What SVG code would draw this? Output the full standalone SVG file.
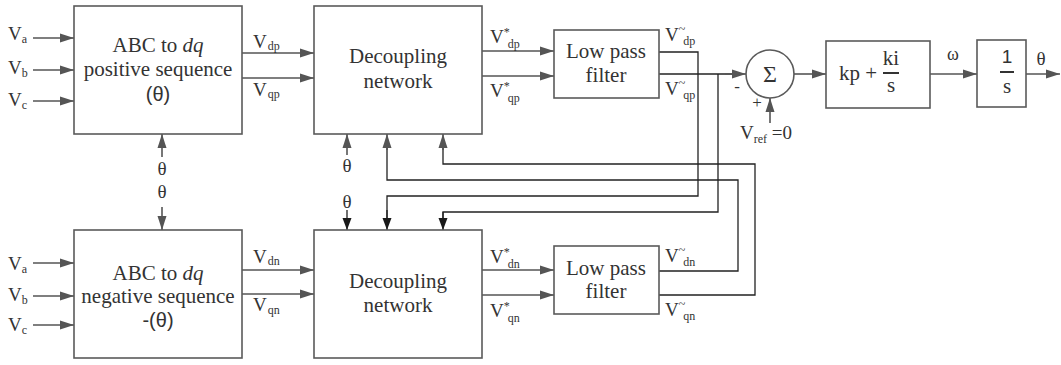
<svg xmlns="http://www.w3.org/2000/svg" width="1061" height="365" viewBox="0 0 1061 365">
<defs>
<marker id="ag" markerUnits="userSpaceOnUse" markerWidth="14" markerHeight="10" refX="14" refY="5" orient="auto"><path d="M0,0.5 L14,5 L0,9.5 z" fill="#555"/></marker>
<marker id="ak" markerUnits="userSpaceOnUse" markerWidth="12" markerHeight="10" refX="12" refY="5" orient="auto"><path d="M0,0.5 L12,5 L0,9.5 z" fill="#1a1a1a"/></marker>
</defs>
<style>
.box{fill:#fff;stroke:#5a5a5a;stroke-width:1.6}
.t{font-family:"Liberation Serif","Times New Roman",serif;font-size:21px;fill:#333;text-anchor:middle}
.l{font-family:"Liberation Serif","Times New Roman",serif;font-size:19px;fill:#333}
.sans{font-family:"Liberation Sans",Arial,sans-serif}
.s{font-size:12px}
.w{fill:none;stroke:#555;stroke-width:1.6;marker-end:url(#ag)}
.k{fill:none;stroke:#222;stroke-width:1.3}
.ka{fill:none;stroke:#222;stroke-width:1.3;marker-end:url(#ak)}
.bar{stroke:#333;stroke-width:2}
</style>
<rect width="1061" height="365" fill="#fff"/>

<g id="connectors">
<path class="w" d="M33,38 H74"/>
<path class="w" d="M33,70 H74"/>
<path class="w" d="M33,101 H74"/>
<path class="w" d="M33,263 H74"/>
<path class="w" d="M33,296 H74"/>
<path class="w" d="M33,325 H74"/>
<path class="w" d="M242,53 H314"/>
<path class="w" d="M242,78 H314"/>
<path class="w" d="M242,270 H314"/>
<path class="w" d="M242,294 H314"/>
<path class="w" d="M482,51 H554"/>
<path class="w" d="M482,76 H554"/>
<path class="w" d="M482,270 H554"/>
<path class="w" d="M482,295 H554"/>
<path class="w" d="M162,157 V134"/>
<path class="w" d="M162,207 V230"/>
<path class="w" d="M347,155 V134"/>
<path class="ka" d="M347,210 V230"/>
<path class="k" d="M659,52 H698 V196 H387 V218"/>
<path class="ka" d="M387,210 V230"/>
<path class="k" d="M718,74 V212 H443 V220"/>
<path class="ka" d="M443,212 V230"/>
<path class="k" d="M659,271 H738 V180 H387 V146"/>
<path class="w" d="M387,150 V134"/>
<path class="k" d="M659,295 H755 V164 H443 V146"/>
<path class="w" d="M443,150 V134"/>
<path class="k" d="M659,74 H735"/>
<path class="w" d="M725,74 H746"/>
<path class="w" d="M770,123 V98"/>
<path class="w" d="M794,74 H826"/>
<path class="w" d="M930,74 H977"/>
<path class="w" d="M1026,74 H1060"/>
</g>

<g id="inputs-top">
<text class="l" x="8" y="40">V<tspan class="s" dy="3">a</tspan></text>
<text class="l" x="8" y="74">V<tspan class="s" dy="3">b</tspan></text>
<text class="l" x="8" y="106">V<tspan class="s" dy="3">c</tspan></text>
</g>
<g id="inputs-bottom">
<text class="l" x="8" y="270">V<tspan class="s" dy="3">a</tspan></text>
<text class="l" x="8" y="301">V<tspan class="s" dy="3">b</tspan></text>
<text class="l" x="8" y="331">V<tspan class="s" dy="3">c</tspan></text>
</g>

<g id="abc-pos">
<rect class="box" x="74" y="6" width="168" height="128"/>
<text class="t" x="158" y="52">ABC to <tspan font-style="italic">dq</tspan></text>
<text class="t" x="158" y="76">positive sequence</text>
<text class="t sans" x="158" y="101" style="font-size:20px">(θ)</text>
</g>
<g id="abc-neg">
<rect class="box" x="74" y="230" width="168" height="128"/>
<text class="t" x="158" y="280">ABC to <tspan font-style="italic">dq</tspan></text>
<text class="t" x="158" y="303">negative sequence</text>
<text class="t sans" x="158" y="327" style="font-size:20px">-(θ)</text>
</g>
<g id="theta-labels">
<text class="t" x="162" y="175" style="font-size:19px">θ</text>
<text class="t" x="162" y="198" style="font-size:19px">θ</text>
<text class="t" x="347" y="172" style="font-size:19px">θ</text>
<text class="t" x="347" y="208" style="font-size:19px">θ</text>
</g>
<g id="vdq-labels">
<text class="l" x="253" y="48">V<tspan class="s" dx="1" dy="2">dp</tspan></text>
<text class="l" x="253" y="96">V<tspan class="s" dx="1" dy="2">qp</tspan></text>
<text class="l" x="253" y="263">V<tspan class="s" dx="1" dy="2">dn</tspan></text>
<text class="l" x="253" y="311">V<tspan class="s" dx="1" dy="3">qn</tspan></text>
</g>

<g id="dec-pos">
<rect class="box" x="314" y="6" width="168" height="128"/>
<text class="t" x="398" y="63">Decoupling</text>
<text class="t" x="398" y="88">network</text>
</g>
<g id="dec-neg">
<rect class="box" x="314" y="230" width="168" height="128"/>
<text class="t" x="398" y="288">Decoupling</text>
<text class="t" x="398" y="312">network</text>
</g>
<g id="vstar-labels">
<text class="l" x="490" y="43">V<tspan class="s" dy="-7">*</tspan><tspan class="s" dx="-2" dy="12">dp</tspan></text>
<text class="l" x="490" y="97">V<tspan class="s" dy="-7">*</tspan><tspan class="s" dx="-2" dy="12">qp</tspan></text>
<text class="l" x="490" y="263">V<tspan class="s" dy="-7">*</tspan><tspan class="s" dx="-2" dy="12">dn</tspan></text>
<text class="l" x="490" y="317">V<tspan class="s" dy="-7">*</tspan><tspan class="s" dx="-2" dy="12">qn</tspan></text>
</g>

<g id="lpf-pos">
<rect class="box" x="554" y="30" width="105" height="68"/>
<text class="t" x="606" y="58">Low pass</text>
<text class="t" x="606" y="82">filter</text>
</g>
<g id="lpf-neg">
<rect class="box" x="554" y="246" width="105" height="68"/>
<text class="t" x="606" y="275">Low pass</text>
<text class="t" x="606" y="298">filter</text>
</g>
<g id="vtilde-labels">
<text class="l" x="665" y="41">V<tspan class="s" dy="-8">~</tspan><tspan class="s" dx="-2" dy="12">dp</tspan></text>
<text class="l" x="665" y="95">V<tspan class="s" dy="-8">~</tspan><tspan class="s" dx="-2" dy="12">qp</tspan></text>
<text class="l" x="665" y="262">V<tspan class="s" dy="-8">~</tspan><tspan class="s" dx="-2" dy="12">dn</tspan></text>
<text class="l" x="665" y="316">V<tspan class="s" dy="-8">~</tspan><tspan class="s" dx="-2" dy="12">qn</tspan></text>
</g>

<g id="sum">
<circle cx="770" cy="74" r="24" fill="#fff" stroke="#5a5a5a" stroke-width="1.6"/>
<text class="t" x="770" y="82" style="font-size:24px">Σ</text>
<text class="t" x="737" y="92" style="font-size:17px">-</text>
<text class="t" x="757" y="108" style="font-size:17px">+</text>
<text class="l" x="740" y="139">V<tspan class="s" dy="4">ref</tspan><tspan dy="-4"> =0</tspan></text>
</g>

<g id="pi">
<rect class="box" x="826" y="41" width="104" height="67"/>
<text class="l" x="839" y="80" style="font-size:21px">kp +</text>
<text class="t" x="891" y="65">ki</text>
<line class="bar" x1="883" y1="73" x2="899" y2="73"/>
<text class="t" x="891" y="92">s</text>
</g>
<text class="t" x="953" y="60" style="font-size:18px">ω</text>

<g id="integrator">
<rect class="box" x="977" y="40" width="49" height="67"/>
<text class="t sans" x="1007" y="63" style="font-size:19px">1</text>
<line class="bar" x1="1000" y1="72" x2="1014" y2="72"/>
<text class="t" x="1007" y="93">s</text>
</g>
<text class="t" x="1041" y="65" style="font-size:19px">θ</text>
</svg>
